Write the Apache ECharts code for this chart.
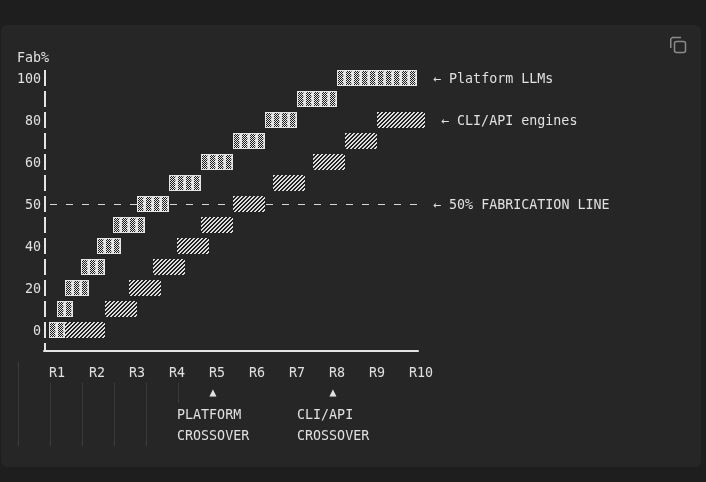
<!DOCTYPE html>
<html><head><meta charset="utf-8">
<style>html,body{margin:0;padding:0;background:#1e1e1e}#c{width:706px;height:482px}</style>
<script src="https://cdn.jsdelivr.net/npm/echarts@6/dist/echarts.min.js"></script>
</head><body><div id="c"></div>
<script>
const rowLabels = ['0','','20','','40','','50','','60','','80','','100'];
const roundValues = [0,1,2,3,4,5,6,7,8,9];
const roundLabels = ['R1','R2','R3','R4','R5','R6','R7','R8','R9','R10'];
// [start, end, row]
const platformBars = [[0,0.4,0],[0.2,0.6,1],[0.4,1,2],[0.8,1.4,3],[1.2,1.8,4],[1.6,2.4,5],[2.2,3,6],[3,3.8,7],[3.8,4.6,8],[4.6,5.4,9],[5.4,6.2,10],[6.2,7.2,11],[7.2,9.2,12]];
const cliBars = [[0.4,1.4,0],[1.4,2.2,1],[2,2.8,2],[2.6,3.4,3],[3.2,4,4],[3.8,4.6,5],[4.6,5.4,6],[5.6,6.4,7],[6.6,7.4,8],[7.4,8.2,9],[8.2,9.4,10]];
// [start, end, row]
const fabLine = [[0.025,2.2,6],[3.025,4.6,6],[5.425,9.2,6]];
const notes = [
  [-0.8,13,'Fab%'],
  [9.6,12,'← Platform LLMs'],
  [9.8,10,'← CLI/API engines'],
  [9.6,6,'← 50% FABRICATION LINE'],
  [4.0,-3,'▲'],
  [7.0,-3,'▲'],
  [3.2,-4,'PLATFORM'],
  [3.2,-5,'CROSSOVER'],
  [6.2,-4,'CLI/API'],
  [6.2,-5,'CROSSOVER']
];
const FAMILY = '"DejaVu Sans Mono", monospace';
const FONT = '13.33px ' + FAMILY;
const SMALL = '11.5px ' + FAMILY;
const TXT = '#e0e0e0', LIGHT = '#e4e4e4', BG = '#262626';

function tile(paint){
  const c = document.createElement('canvas'); c.width = 8; c.height = 21;
  const g = c.getContext('2d');
  for (let Y = 0; Y < 21; Y++) for (let X = 0; X < 8; X++) {
    const x = (X + 7) % 8, y = (Y + 14) % 21;
    g.fillStyle = y < 16 ? paint(x, y) : BG;
    g.fillRect(X, Y, 1, 1);
  }
  return c;
}
const platTile = tile((x,y)=>{
  if (y===0 || y===15) return LIGHT;
  if (x>=1 && x<=5) return (x+y)%2 ? '#1c1c1c' : LIGHT;
  if (x===6 && y%4===1) return '#8a8a8a';
  return LIGHT;
});
const cliTile = tile((x,y)=> ((x+y)%4<2) ? '#dcdcdc' : '#202020');

function barSeries(name, data, img){
  return {
    type:'custom', name, data, clip:false, z:3,
    encode:{x:[0,1],y:2},
    renderItem(p, api){
      const a = api.coord([api.value(0), api.value(2)]);
      const b = api.coord([api.value(1), api.value(2)]);
      return {type:'rect',
        shape:{x:Math.round(a[0]), y:Math.round(a[1])-8, width:Math.round(b[0])-Math.round(a[0]), height:16},
        style:{fill:{image:img, repeat:'repeat'}}};
    }
  };
}
const pipeRows = rowLabels.map((_,i)=>[i]);
const LABEL_NUDGE = 2/21;
const option = {
  backgroundColor:'#1e1e1e',
  animation:false,
  textStyle:{fontFamily:FAMILY},
  grid:{left:44,right:288,top:57,bottom:131},
  xAxis:{type:'value',min:-0.125,max:9.225,splitLine:{show:false},
    axisLine:{show:true,onZero:false,lineStyle:{color:LIGHT,width:2}},
    axisTick:{show:false},
    axisLabel:{customValues:roundValues,align:'left',margin:16,color:TXT,
      fontFamily:FAMILY,fontSize:13.33,hideOverlap:false,
      formatter:v=>roundLabels[v]||''}},
  yAxis:{type:'value',min:-1,max:13,splitLine:{show:false},axisLine:{show:false},axisTick:{show:false},
    axisLabel:{customValues:rowLabels.map((_,i)=>i-LABEL_NUDGE),margin:3,color:TXT,
      fontFamily:FAMILY,fontSize:13.33,hideOverlap:false,
      formatter:v=>rowLabels[Math.round(v)]||''}},
  graphic:[
    {type:'rect',z:-10,shape:{x:1,y:25,width:700,height:442,r:6},style:{fill:BG}},
    ...[[18.5,362,446],[50.5,383,446],[82.5,383,446],[114.5,383,446],[146.5,383,446],[178.5,383,403]].map(l=>(
      {type:'line',z:-5,shape:{x1:l[0],y1:l[1],x2:l[0],y2:l[2]},style:{stroke:'#3c3c3c',lineWidth:1}})),
    {type:'rect',z:5,shape:{x:674.5,y:41.5,width:11,height:11,r:2},style:{fill:BG,stroke:'#8a8a8a',lineWidth:1.5}},
    {type:'polyline',z:5,shape:{points:[[670.75,48],[670.75,39],[672.5,37.5],[681,37.5]]},style:{fill:null,stroke:'#8a8a8a',lineWidth:1.5}}
  ],
  series:[
    {type:'custom',name:'axis pipes',data:pipeRows,clip:false,z:2,encode:{y:0},
      renderItem(p,api){
        const c = api.coord([-0.125,api.value(0)]);
        return {type:'rect',shape:{x:44,y:c[1]-8,width:2,height:16},style:{fill:LIGHT}};
      }},
    {type:'custom',name:'axis corner',data:[[-1]],clip:false,z:2,encode:{y:0},
      renderItem(p,api){
        const c = api.coord([-0.125,api.value(0)]);
        return {type:'rect',shape:{x:44,y:c[1]-8,width:2,height:9},style:{fill:LIGHT}};
      }},
    {type:'custom',name:'50% fabrication line',data:fabLine,clip:false,z:1,
      encode:{x:[0,1],y:2},
      renderItem(p,api){
        const a = api.coord([api.value(0),api.value(2)]), b = api.coord([api.value(1),api.value(2)]);
        return {type:'line',shape:{x1:a[0],y1:a[1]+0.5,x2:b[0],y2:b[1]+0.5},
          style:{stroke:'#d8d8d8',lineWidth:1,lineDash:[7,9]}};
      }},
    barSeries('CLI/API engines',cliBars,cliTile),
    barSeries('Platform LLMs',platformBars,platTile),
    {type:'custom',name:'notes',data:notes.map(n=>[n[0],n[1]]),clip:false,z:4,encode:{x:0,y:1},
      renderItem(p,api){
        const n = notes[p.dataIndex], c = api.coord([api.value(0),api.value(1)]);
        const tri = n[2]==='▲';
        return {type:'text',style:{x:Math.round(c[0])+(tri?0.5:0),y:c[1]+(tri?0.5:2),text:n[2],font:tri?SMALL:FONT,fill:TXT,
          textAlign:'left',textVerticalAlign:'middle'}};
      }}
  ]
};
echarts.init(document.getElementById('c'),null,{renderer:'canvas'}).setOption(option);
</script></body></html>
